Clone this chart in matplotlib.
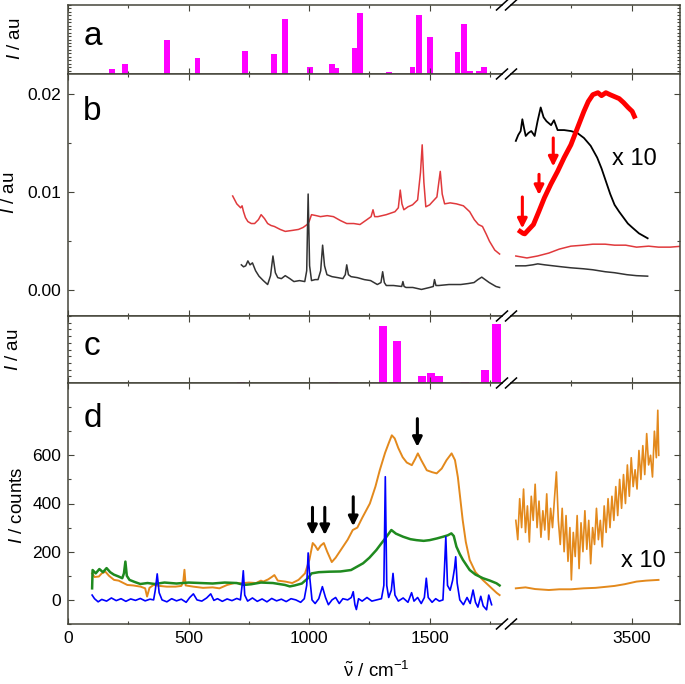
import matplotlib

matplotlib.use("Agg")
import matplotlib.pyplot as plt
from matplotlib.lines import Line2D
from matplotlib.ticker import FixedLocator, FormatStrFormatter, MultipleLocator, NullLocator

# ---- data (wavenumber in cm-1) ----
# panel a: computed band intensities (relative)
a_pos = [182, 237, 409, 537, 734, 856, 901, 1003, 1094, 1110, 1189, 1211, 1331,
         1429, 1456, 1502, 1615, 1644, 1666, 1706, 1726]
a_int = [0.07, 0.145, 0.50, 0.23, 0.34, 0.29, 0.79, 0.10, 0.14, 0.08, 0.38, 0.89,
         0.03, 0.10, 0.85, 0.53, 0.32, 0.72, 0.05, 0.04, 0.10]

# panel b: spectra, low-frequency region
b_red_x = [683, 700, 716, 722, 728, 736, 746, 760, 774, 790, 801, 815, 828, 842, 856,
           880, 901, 930, 956, 975, 992, 1000, 1010, 1030, 1047, 1075, 1101, 1130, 1156,
           1185, 1211, 1240, 1257, 1265, 1272, 1285, 1320, 1356, 1370, 1378, 1385, 1393,
           1410, 1429, 1450, 1462, 1469, 1476, 1484, 1500, 1511, 1530, 1538, 1544, 1552,
           1562, 1585, 1611, 1640, 1666, 1685, 1702, 1719, 1735, 1748, 1770, 1790]
b_red_y = [0.0096, 0.0088, 0.0084, 0.0086, 0.0080, 0.0074, 0.0070, 0.0068, 0.0068, 0.0072,
           0.0077, 0.0073, 0.0068, 0.0066, 0.0065, 0.0062, 0.0060, 0.0061, 0.0062, 0.0064,
           0.0067, 0.0070, 0.0077, 0.0076, 0.0075, 0.0076, 0.0075, 0.0071, 0.0068, 0.0068,
           0.0067, 0.0072, 0.0075, 0.0082, 0.0075, 0.0075, 0.0077, 0.0080, 0.0084, 0.0102,
           0.0088, 0.0082, 0.0085, 0.0087, 0.0092, 0.0120, 0.0148, 0.0110, 0.0085, 0.0087,
           0.0090, 0.0095, 0.0110, 0.0121, 0.0098, 0.0088, 0.0089, 0.0088, 0.0086, 0.0080,
           0.0072, 0.0067, 0.0065, 0.0057, 0.0050, 0.0041, 0.0037]
b_grey_x = [719, 728, 737, 746, 755, 765, 778, 792, 810, 828, 840, 850, 860, 870, 885,
            901, 920, 937, 960, 982, 990, 996, 1002, 1010, 1025, 1037, 1048, 1056, 1064,
            1074, 1095, 1119, 1140, 1150, 1156, 1163, 1174, 1200, 1229, 1255, 1283, 1298,
            1305, 1312, 1320, 1350, 1384, 1389, 1394, 1402, 1430, 1466, 1500, 1515, 1520,
            1526, 1538, 1580, 1629, 1660, 1684, 1700, 1716, 1730, 1747, 1775, 1790]
b_grey_y = [0.0026, 0.0024, 0.0025, 0.0030, 0.0026, 0.0028, 0.0020, 0.00145, 0.0010, 0.0006,
            0.0015, 0.0035, 0.0018, 0.0013, 0.0012, 0.0015, 0.0012, 0.0009, 0.0010, 0.0009,
            0.0020, 0.0098, 0.0025, 0.0010, 0.0011, 0.0011, 0.0020, 0.0046, 0.0025, 0.0016,
            0.0014, 0.0013, 0.0012, 0.0016, 0.0026, 0.0016, 0.0014, 0.0013, 0.0011, 0.0010,
            0.0006, 0.0008, 0.0019, 0.0008, 0.0005, 0.0005, 0.0004, 0.0009, 0.0004, 0.0003,
            0.0003, 0.0001, 0.0003, 0.0004, 0.0011, 0.0005, 0.0005, 0.0006, 0.0006, 0.0007,
            0.0008, 0.0011, 0.00135, 0.0011, 0.0008, 0.0004, 0.0003]

# panel b: high-frequency region (plain and x10)
b_red_hf_x = [3020, 3066, 3110, 3157, 3200, 3248, 3300, 3339, 3390, 3429, 3475, 3520, 3570,
              3611, 3660, 3710]
b_red_hf_y = [0.0035, 0.0033, 0.0035, 0.0038, 0.0042, 0.0045, 0.0046, 0.0047, 0.0047, 0.0046,
              0.0046, 0.0044, 0.0045, 0.0044, 0.0044, 0.0045]
b_grey_hf_x = [3020, 3060, 3090, 3111, 3140, 3175, 3210, 3248, 3300, 3339, 3390, 3429, 3480,
               3520, 3566]
b_grey_hf_y = [0.0025, 0.0025, 0.0026, 0.0027, 0.0026, 0.0025, 0.0024, 0.0023, 0.0022, 0.0021,
               0.0019, 0.0018, 0.0016, 0.0015, 0.00145]
b_red_x10_x = [3038, 3050, 3057, 3070, 3093, 3115, 3138, 3165, 3193, 3220, 3248, 3275, 3302,
               3320, 3339, 3360, 3375, 3393, 3410, 3429, 3448, 3466, 3485, 3502, 3511]
b_red_x10_y = [0.0060, 0.0058, 0.00575, 0.0061, 0.0067, 0.0080, 0.0094, 0.0108, 0.0121, 0.0135,
               0.0148, 0.0165, 0.0182, 0.0192, 0.0199, 0.0201, 0.0198, 0.0201, 0.0199, 0.0197,
               0.0195, 0.0191, 0.0186, 0.0182, 0.0177]
b_black_x10_x = [3020, 3030, 3040, 3047, 3054, 3061, 3072, 3084, 3098, 3110, 3123, 3135, 3147,
                 3166, 3178, 3193, 3220, 3248, 3275, 3302, 3330, 3357, 3375, 3393, 3411,
                 3429, 3448, 3466, 3484, 3502, 3530, 3566]
b_black_x10_y = [0.0152, 0.0158, 0.0162, 0.0174, 0.0165, 0.0157, 0.0160, 0.0162, 0.0157, 0.0172,
                 0.0186, 0.0176, 0.0172, 0.0168, 0.0173, 0.0163, 0.0163, 0.0162, 0.0160, 0.0155,
                 0.0147, 0.0135, 0.0124, 0.0111, 0.0098, 0.0087, 0.0080, 0.0074, 0.0068, 0.0064,
                 0.0058, 0.0053]
b_arrow_x = [3047, 3116, 3175]
b_arrow_top = [0.0095, 0.0118, 0.0155]
b_arrow_tip = [0.0063, 0.0097, 0.0126]

# panel c: computed band intensities (relative)
c_pos = [716, 1101, 1307, 1365, 1469, 1507, 1538, 1647, 1729, 1777]
c_int = [0.02, 0.01, 0.85, 0.62, 0.10, 0.15, 0.10, 0.01, 0.20, 0.88]

# panel d: counts
d_blue_x = [100, 110, 125, 140, 160, 180, 200, 220, 240, 260, 280, 300, 320, 340, 355, 362,
            370, 378, 390, 410, 430, 450, 470, 490, 505, 520, 535, 555, 575, 592, 605, 620,
            640, 660, 680, 700, 715, 722, 727, 733, 745, 765, 785, 805, 825, 845, 865, 885,
            905, 925, 945, 965, 980, 990, 996, 1003, 1012, 1025, 1040, 1055, 1068, 1080, 1095,
            1110, 1125, 1140, 1160, 1175, 1183, 1190, 1196, 1205, 1220, 1240, 1260, 1280, 1300,
            1310, 1316, 1322, 1330, 1341, 1348, 1356, 1370, 1390, 1410, 1425, 1435, 1450, 1465,
            1478, 1486, 1494, 1510, 1525, 1540, 1555, 1561, 1567, 1574, 1585, 1595, 1603, 1608,
            1614, 1625, 1640, 1655, 1668, 1680, 1690, 1700, 1712, 1722, 1736, 1745, 1757]
d_blue_y = [20, 5, -8, 2, -5, 8, -3, 5, -6, 4, -2, 6, -4, 3, 0, 40,
            108, 30, 0, -8, 5, -4, 3, -10, 10, 25, 0, -5, 8, 25, -2, 5,
            -6, 4, -3, 6, 0, 60, 121, 20, -5, 8, -6, 4, -8, 6, -4, 3,
            -7, 5, 0, -10, 5, 60, 195, 90, 0, -15, 5, 55, 10, -20, 0,
            10, -15, 5, 0, 10, 34, -20, -40, 5, -5, 10, -5, 0, 5,
            60, 511, 60, 10, 40, 110, 20, -5, 8, -10, 30, -5, 10, -15,
            10, 90, 10, -10, 5, -5, 0, 120, 262, 60, 40, 80, 130, 179,
            70, 0, -20, 10, -15, 41, -10, -30, 15, -25, -41, 20, -20]
d_green_x = [100, 102, 115, 130, 145, 160, 175, 190, 210, 225, 232, 238, 244, 255, 275, 300,
             330, 360, 400, 450, 500, 550, 600, 650, 700, 730, 760, 800, 850, 900, 920, 940,
             970, 995, 1010, 1040, 1083, 1130, 1174, 1224, 1250, 1279, 1300, 1321, 1341, 1360,
             1390, 1420, 1445, 1475, 1500, 1530, 1555, 1575, 1590, 1600, 1611, 1625, 1638,
             1666, 1690, 1721, 1750, 1777, 1790]
d_green_y = [48, 124, 110, 128, 115, 132, 115, 105, 97, 90, 110, 159, 100, 83, 75, 66,
             70, 66, 72, 68, 72, 70, 68, 72, 70, 62, 65, 72, 70, 62, 56, 60,
             68, 90, 110, 115, 117, 118, 124, 152, 175, 207, 235, 262, 290, 275,
             262, 252, 248, 245, 248, 255, 262, 268, 276, 265, 221, 190, 166,
             124, 105, 90, 80, 69, 60]
d_orange_x = [100, 110, 128, 140, 155, 170, 191, 210, 230, 246, 270, 301, 320, 328, 338, 355,
              380, 410, 446, 470, 478, 483, 488, 520, 560, 600, 628, 660, 690, 719, 750, 780,
              800, 810, 830, 845, 856, 870, 901, 930, 956, 983, 1001, 1015, 1025, 1036, 1048,
              1061, 1075, 1094, 1110, 1140, 1160, 1181, 1200, 1220, 1252, 1275, 1293, 1315,
              1330, 1343, 1355, 1370, 1388, 1405, 1426, 1440, 1451, 1465, 1488, 1510, 1529,
              1550, 1570, 1591, 1605, 1617, 1627, 1637, 1650, 1666, 1690, 1720, 1750, 1778, 1790]
d_orange_y = [110, 95, 97, 110, 117, 100, 83, 80, 70, 62, 60, 55, 48, 14, 50, 62,
              58, 55, 55, 58, 75, 125, 60, 55, 50, 52, 48, 62, 70, 69, 72, 70,
              80, 76, 85, 95, 103, 80, 76, 70, 83, 110, 166, 236, 225, 207, 225,
              236, 200, 157, 175, 220, 250, 290, 300, 340, 400, 470, 538, 610,
              650, 683, 670, 630, 592, 570, 559, 585, 608, 580, 538, 530, 525,
              545, 580, 608, 580, 509, 420, 331, 240, 166, 115, 83, 55, 29, 20]
d_orange_hf_x = [3020, 3060, 3100, 3157, 3200, 3248, 3300, 3350, 3400, 3429, 3470, 3520, 3560,
                 3611]
d_orange_hf_y = [48, 52, 45, 41, 44, 44, 48, 50, 55, 58, 65, 76, 80, 83]
d_orange_x10_x = [3020, 3028, 3036, 3044, 3052, 3060, 3068, 3076, 3084, 3092, 3100, 3108, 3116,
                  3124, 3132, 3140, 3148, 3156, 3164, 3172, 3180, 3188, 3196, 3204, 3212, 3220,
                  3228, 3236, 3244, 3250, 3258, 3266, 3274, 3282, 3290, 3298, 3306, 3314, 3322,
                  3330, 3338, 3346, 3354, 3362, 3370, 3378, 3386, 3394, 3402, 3410, 3418, 3426,
                  3434, 3442, 3450, 3458, 3466, 3474, 3482, 3490, 3498, 3506, 3514, 3522, 3530,
                  3538, 3546, 3554, 3562, 3570, 3578, 3586, 3594, 3602, 3608, 3612]
d_orange_x10_y = [330, 250, 420, 300, 460, 280, 390, 240, 430, 330, 480, 300, 410,
                  260, 370, 290, 440, 250, 380, 300, 420, 531, 330, 230, 380, 200,
                  350, 160, 300, 83, 280, 180, 350, 130, 320, 200, 370, 210, 330,
                  150, 300, 230, 380, 250, 330, 220, 390, 280, 420, 300, 430, 330,
                  470, 350, 500, 380, 520, 400, 560, 430, 590, 470, 540, 460, 620,
                  500, 640, 520, 690, 560, 600, 510, 700, 590, 787, 600]
d_arrow_x = [1014, 1065, 1183, 1449]
d_arrow_top = [384, 384, 428, 752]
d_arrow_tip = [269, 269, 306, 635]

# ---- layout (pixels of the 685 x 684 canvas) ----
W, H = 685, 684
LEFT_PX, BREAK_L_PX, BREAK_R_PX, RIGHT_PX = 68, 502, 511, 680
ROWS_PX = {"a": (5, 74), "b": (74, 316), "c": (316, 383), "d": (383, 624)}
FRAME = "#45453a"
MAGENTA = "#ff00ff"
RED = "#ff0000"
RED_THIN = "#e0393c"
GREY = "#333333"
ORANGE = "#e3891c"
GREEN = "#1f8a1f"
BLUE = "#0000ff"

plt.rcParams["font.family"] = ["Liberation Sans", "DejaVu Sans"]
plt.rcParams["mathtext.fontset"] = "custom"
plt.rcParams["mathtext.rm"] = "Liberation Sans"
plt.rcParams["mathtext.it"] = "Liberation Sans:italic"


def make_row(fig, key, show_xlabels=False):
    top, bottom = ROWS_PX[key]
    y0 = 1 - bottom / H
    h = (bottom - top) / H
    axl = fig.add_axes([LEFT_PX / W, y0, (BREAK_L_PX - LEFT_PX) / W, h])
    axr = fig.add_axes([BREAK_R_PX / W, y0, (RIGHT_PX - BREAK_R_PX) / W, h], sharey=axl)
    axl.set_xlim(0, 1800)
    axr.set_xlim(3000, 3700)
    for ax in (axl, axr):
        for sp in ax.spines.values():
            sp.set_color(FRAME)
            sp.set_linewidth(1.1)
        ax.tick_params(which="both", direction="in", top=True, bottom=True, color=FRAME,
                       labelsize=12.5, pad=5, width=0.8)
        ax.tick_params(which="major", length=4)
        ax.tick_params(which="minor", length=2.5)
        ax.tick_params(axis="x", labelbottom=show_xlabels)
    axl.spines["right"].set_visible(False)
    axr.spines["left"].set_visible(False)
    axl.tick_params(axis="y", which="both", left=True, right=False)
    axr.tick_params(axis="y", which="both", left=False, right=True, labelleft=False)
    axl.xaxis.set_major_locator(MultipleLocator(500))
    axl.xaxis.set_minor_locator(MultipleLocator(250))
    axr.xaxis.set_major_locator(FixedLocator([3500]))
    axr.xaxis.set_minor_locator(FixedLocator([3250]))
    return axl, axr


def add_breaks(fig):
    edges = sorted({v for pair in ROWS_PX.values() for v in pair})
    for xc in (BREAK_L_PX, BREAK_R_PX):
        for yc in edges:
            xs = [(xc - 5.5) / W, (xc + 5.5) / W]
            ys = [1 - (yc + 5) / H, 1 - (yc - 5) / H]
            fig.add_artist(Line2D(xs, ys, transform=fig.transFigure, color="black", lw=1.1))


def stick_panel(axl, axr, pos, vals, width, minor_step, label):
    axl.bar(pos, vals, width=width, color=MAGENTA, linewidth=0)
    axl.set_ylim(0, 1)
    for ax in (axl, axr):
        ax.yaxis.set_major_locator(NullLocator())
        ax.yaxis.set_minor_locator(MultipleLocator(minor_step))
    axl.text(0.035, 0.42, label, transform=axl.transAxes, fontsize=24, va="baseline")


def arrow(ax, x, y0, y1, color, lw, scale):
    ax.annotate("", xy=(x, y1), xytext=(x, y0),
                arrowprops=dict(arrowstyle="-|>", color=color, lw=lw, mutation_scale=scale,
                                shrinkA=0, shrinkB=0))


def main() -> None:
    fig = plt.figure(figsize=(W / 100, H / 100), dpi=100)

    # a
    axa, axa2 = make_row(fig, "a")
    stick_panel(axa, axa2, a_pos, a_int, 24, 0.05, "a")

    # b
    axb, axb2 = make_row(fig, "b")
    axb.plot(b_red_x, b_red_y, color=RED_THIN, lw=1.1)
    axb.plot(b_grey_x, b_grey_y, color=GREY, lw=1.1)
    axb2.plot(b_red_hf_x, b_red_hf_y, color=RED_THIN, lw=1.1)
    axb2.plot(b_grey_hf_x, b_grey_hf_y, color=GREY, lw=1.1)
    axb2.plot(b_black_x10_x, b_black_x10_y, color="black", lw=1.3)
    axb2.plot(b_red_x10_x, b_red_x10_y, color=RED, lw=3.5)
    for x, y0, y1 in zip(b_arrow_x, b_arrow_top, b_arrow_tip):
        arrow(axb2, x, y0, y1, RED, 2.2, 14)
    axb2.text(3418, 0.0128, "x 10", fontsize=17, va="baseline")
    axb.set_ylim(-0.0026, 0.022)
    axb.yaxis.set_major_locator(MultipleLocator(0.01))
    axb.yaxis.set_minor_locator(MultipleLocator(0.005))
    axb.yaxis.set_major_formatter(FormatStrFormatter("%.2f"))
    axb.text(0.035, 0.81, "b", transform=axb.transAxes, fontsize=24, va="baseline")

    # c
    axc, axc2 = make_row(fig, "c")
    stick_panel(axc, axc2, c_pos, c_int, 34, 0.1, "c")

    # d
    axd, axd2 = make_row(fig, "d", show_xlabels=True)
    axd.plot(d_orange_x, d_orange_y, color=ORANGE, lw=1.4)
    axd.plot(d_green_x, d_green_y, color=GREEN, lw=1.8)
    axd.plot(d_blue_x, d_blue_y, color=BLUE, lw=1.2)
    axd2.plot(d_orange_hf_x, d_orange_hf_y, color=ORANGE, lw=1.4)
    axd2.plot(d_orange_x10_x, d_orange_x10_y, color=ORANGE, lw=1.2)
    for x, y0, y1 in zip(d_arrow_x, d_arrow_top, d_arrow_tip):
        arrow(axd, x, y0, y1, "black", 2.2, 14)
    axd2.text(3456, 137, "x 10", fontsize=17, va="baseline")
    axd.set_ylim(-100, 900)
    axd.yaxis.set_major_locator(FixedLocator([0, 200, 400, 600]))
    axd.yaxis.set_minor_locator(FixedLocator([-100, 100, 300, 500, 700, 800]))
    axd.text(0.035, 0.817, "d", transform=axd.transAxes, fontsize=24, va="baseline")

    add_breaks(fig)

    ylabels = [("$I$ / au", 15, 39), ("$I$ / au", 10, 193), ("$I$ / au", 14, 350),
               ("$I$ / counts", 17, 505)]
    for text, xpx, ypx in ylabels:
        fig.text(xpx / W, 1 - ypx / H, text, rotation=90, ha="center", va="center", fontsize=13.5)
    fig.text(376 / W, 1 - 671 / H, r"$\tilde{\mathrm{\nu}}$ / cm$^{-1}$", ha="center",
             va="center", fontsize=13.5)

    fig.savefig("out.png", dpi=100)
    plt.close(fig)


if __name__ == "__main__":
    main()
